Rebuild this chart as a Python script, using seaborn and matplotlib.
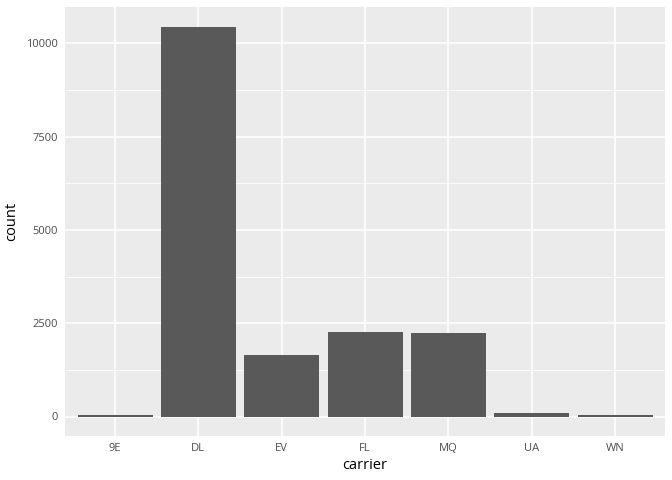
import matplotlib
matplotlib.use('Agg')
import matplotlib.pyplot as plt
import seaborn as sns
import pandas as pd
from matplotlib.ticker import MultipleLocator

# Data
carriers = ['9E', 'DL', 'EV', 'FL', 'MQ', 'UA', 'WN']
counts = [50, 10450, 1640, 2260, 2233, 95, 50]

df = pd.DataFrame({'carrier': carriers, 'count': counts})

sns.set_style('darkgrid', {
    'axes.facecolor': '#EBEBEB',
    'grid.color': 'white',
    'axes.edgecolor': 'none',
})
plt.rcParams['font.family'] = ['Open Sans', 'DejaVu Sans']

fig = plt.figure(figsize=(6.72, 4.8), dpi=100)
ax = fig.add_axes([65 / 672, 44 / 480, 600 / 672, 429 / 480])

sns.barplot(x='carrier', y='count', data=df, color='#595959', width=0.9,
            saturation=1, linewidth=0, edgecolor='none', ax=ax, zorder=3)

ax.set_xlim(-0.6, 6.6)
ymax = max(counts)
ax.set_ylim(-0.05 * ymax, 1.05 * ymax)
ax.yaxis.set_major_locator(MultipleLocator(2500))
ax.yaxis.set_minor_locator(MultipleLocator(1250))
ax.grid(which='major', color='white', linewidth=1.1)
ax.grid(which='minor', axis='y', color='white', linewidth=0.55)
ax.set_axisbelow(True)

ax.tick_params(axis='both', which='major', length=2.75, width=0.8, color='#333333',
               labelsize=8, labelcolor='#4D4D4D', pad=2.5)
ax.tick_params(axis='y', which='minor', length=0)
for s in ax.spines.values():
    s.set_visible(False)

ax.set_xlabel('carrier', fontsize=10.5, color='black', labelpad=3)
ax.set_ylabel('count', fontsize=10.5, color='black', labelpad=5)

fig.savefig('out.png', dpi=100)
